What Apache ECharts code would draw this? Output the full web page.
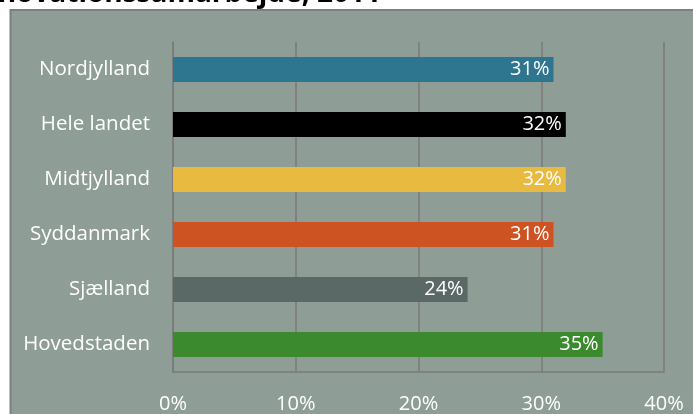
<!DOCTYPE html>
<html>
<head>
<meta charset="utf-8">
<script src="https://cdn.jsdelivr.net/npm/echarts@6/dist/echarts.min.js"></script>
<style>
  html, body { margin: 0; padding: 0; background: #ffffff; }
  #chart { width: 693px; height: 414px; }
</style>
</head>
<body>
<div id="chart"></div>
<script>
// Regions, top to bottom
const regions = ['Nordjylland', 'Hele landet', 'Midtjylland', 'Syddanmark', 'Sjælland', 'Hovedstaden'];
// Share of firms with innovation cooperation (%)
const shares = [31, 32, 32, 31, 24, 35];
const barColors = ['#2E7590', '#000000', '#E8BA40', '#CD5322', '#5A6866', '#3C8A2E'];
const tickLabels = ['0%', '10%', '20%', '30%', '40%'];

const font = '"Open Sans", "Liberation Sans", sans-serif';
const chart = echarts.init(document.getElementById('chart'));

chart.setOption({
  animation: false,
  backgroundColor: '#ffffff',
  graphic: [
    {
      // plot frame
      type: 'rect',
      shape: { x: 10.5, y: 10, width: 700, height: 420 },
      style: { fill: '#8E9D95', stroke: '#7F7F7F', lineWidth: 2 },
      z: -10
    },
    {
      type: 'text',
      left: -30,
      top: -20,
      style: {
        text: 'Innovationssamarbejde, 2011',
        fill: '#000000',
        font: 'bold 28px ' + font
      }
    }
  ],
  grid: { left: 173, right: 29, top: 42, bottom: 41, containLabel: false },
  xAxis: {
    type: 'value',
    min: 0,
    max: 40,
    interval: 10,
    axisLine: { show: true, lineStyle: { color: '#7A7A7A', width: 1.5 } },
    axisTick: { show: false },
    splitLine: { show: true, lineStyle: { color: '#7A7A7A', width: 1.5 } },
    axisLabel: {
      color: '#ffffff',
      fontFamily: font,
      fontSize: 20,
      margin: 22,
      formatter: (v) => tickLabels[v / 10]
    }
  },
  yAxis: {
    type: 'category',
    data: regions,
    inverse: true,
    axisLine: { show: true, lineStyle: { color: '#7A7A7A', width: 1.5 } },
    axisTick: { show: false },
    splitLine: { show: false },
    axisLabel: { color: '#ffffff', fontFamily: font, fontSize: 20.5, margin: 23 }
  },
  series: [{
    type: 'bar',
    data: shares.map((v, i) => ({ value: v, itemStyle: { color: barColors[i] } })),
    barWidth: 25,
    label: {
      show: true,
      position: 'insideRight',
      distance: 4,
      color: '#ffffff',
      fontFamily: font,
      fontSize: 20,
      formatter: (p) => p.value + '%'
    }
  }]
});
</script>
</body>
</html>
